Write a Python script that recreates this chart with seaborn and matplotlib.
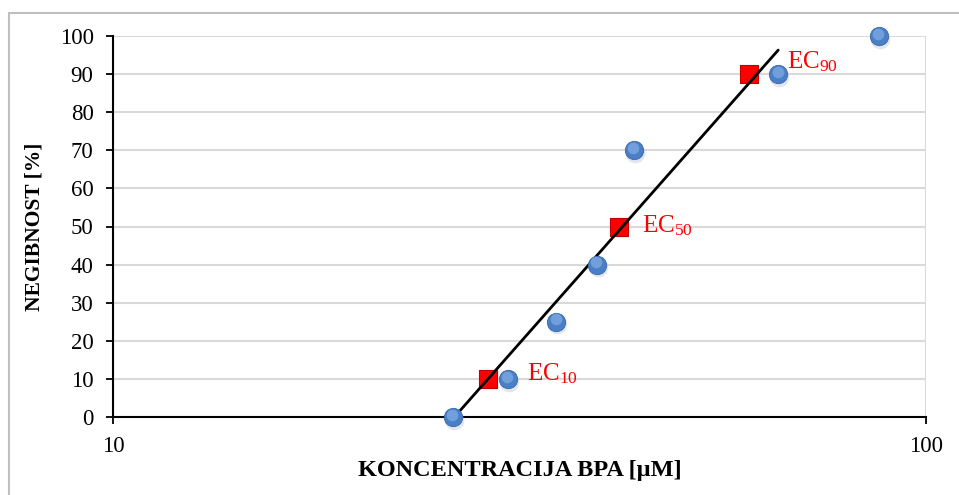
import matplotlib
matplotlib.use("Agg")
import matplotlib.pyplot as plt
import seaborn as sns
import pandas as pd
from matplotlib.lines import Line2D

# ---- data ----
conc_measured = [26.2, 30.6, 35.1, 39.4, 43.7, 65.8, 87.5]
neg_measured = [0, 10, 25, 40, 70, 90, 100]
ec_conc = [28.9, 41.9, 60.6]
ec_neg = [10, 50, 90]
ec_labels = ["EC$_{10}$", "EC$_{50}$", "EC$_{90}$"]
line_conc = [26.3, 65.8]
line_neg = [0, 96.3]
x_ticks = [10, 100]
y_ticks = [0, 10, 20, 30, 40, 50, 60, 70, 80, 90, 100]

sns.set_theme(style="white")
plt.rcParams['font.family'] = ['Liberation Serif', 'DejaVu Serif']
plt.rcParams['mathtext.fontset'] = 'custom'
plt.rcParams['mathtext.rm'] = 'Liberation Serif'
plt.rcParams['mathtext.it'] = 'Liberation Serif:italic'

fig = plt.figure(figsize=(9.59, 4.95), dpi=100)
ax = fig.add_axes([113/959, 1-417/495, (926-113)/959, (417-36)/495])

df_m = pd.DataFrame({"x": conc_measured, "y": neg_measured})
df_ec = pd.DataFrame({"x": ec_conc, "y": ec_neg})
df_l = pd.DataFrame({"x": line_conc, "y": line_neg})

ax.set_xscale("log")
ax.set_xlim(10, 100)
ax.set_ylim(0, 100)

ax.set_yticks(y_ticks)
ax.set_xticks(x_ticks)
ax.xaxis.set_minor_locator(matplotlib.ticker.NullLocator())
ax.set_xticklabels([str(v) for v in x_ticks])
ax.grid(True, axis='both', color='#D9D9D9', linewidth=1.5, zorder=0)
ax.set_axisbelow(True)

# red squares
sns.scatterplot(data=df_ec, x="x", y="y", ax=ax, marker="s", s=175,
                color="#FF0000", edgecolor="#C00000", linewidth=0.8, zorder=3, legend=False)
# fit line
sns.lineplot(data=df_l, x="x", y="y", ax=ax, color="black", linewidth=2, zorder=4,
             estimator=None, sort=False)
# blue spheres: shadow, body, highlight
ax.scatter([v * 1.003 for v in conc_measured], [v - 0.7 for v in neg_measured], s=200,
           color="#b0b8c4", alpha=0.35, linewidth=0, zorder=4.5)
sns.scatterplot(data=df_m, x="x", y="y", ax=ax, s=175, color="#4A7FC8",
                edgecolor="#3A68A8", linewidth=0.6, zorder=5, legend=False)
ax.scatter([v * 0.998 for v in conc_measured], [v + 0.6 for v in neg_measured], s=70,
           color="#7FAAE3", alpha=0.75, linewidth=0, zorder=6)
for c in ax.collections:
    c.set_clip_on(False)

offsets = [(39, 5), (23, 1), (38, 12)]
for xv, yv, lab, off in zip(ec_conc, ec_neg, ec_labels, offsets):
    ax.annotate(lab, (xv, yv), xytext=off, textcoords='offset pixels',
                color="#FF0000", fontsize=18, va='center', ha='left', zorder=7)

for s in ['top', 'right']:
    ax.spines[s].set_visible(False)
for s in ['left', 'bottom']:
    ax.spines[s].set_color('black')
    ax.spines[s].set_linewidth(1.5)
ax.tick_params(axis='both', which='major', direction='out', length=5, width=1.3,
               color='black', labelsize=16.5, labelcolor='black', left=True, bottom=True)
ax.tick_params(axis='y', pad=9)
ax.tick_params(axis='x', pad=9)

ax.set_xlabel("KONCENTRACIJA BPA [µM]", fontsize=17.5, fontweight='bold', labelpad=2,
              color='black')
ax.set_ylabel("NEGIBNOST [%]", fontsize=15.5, fontweight='bold', labelpad=11,
              color='black')

# chart border
fig.add_artist(Line2D([9/959, 9/959], [0, 1-13/495], color='#BFBFBF', linewidth=1.5))
fig.add_artist(Line2D([9/959, 1], [1-13/495, 1-13/495], color='#BFBFBF', linewidth=1.5))

fig.savefig("out.png", dpi=100)
